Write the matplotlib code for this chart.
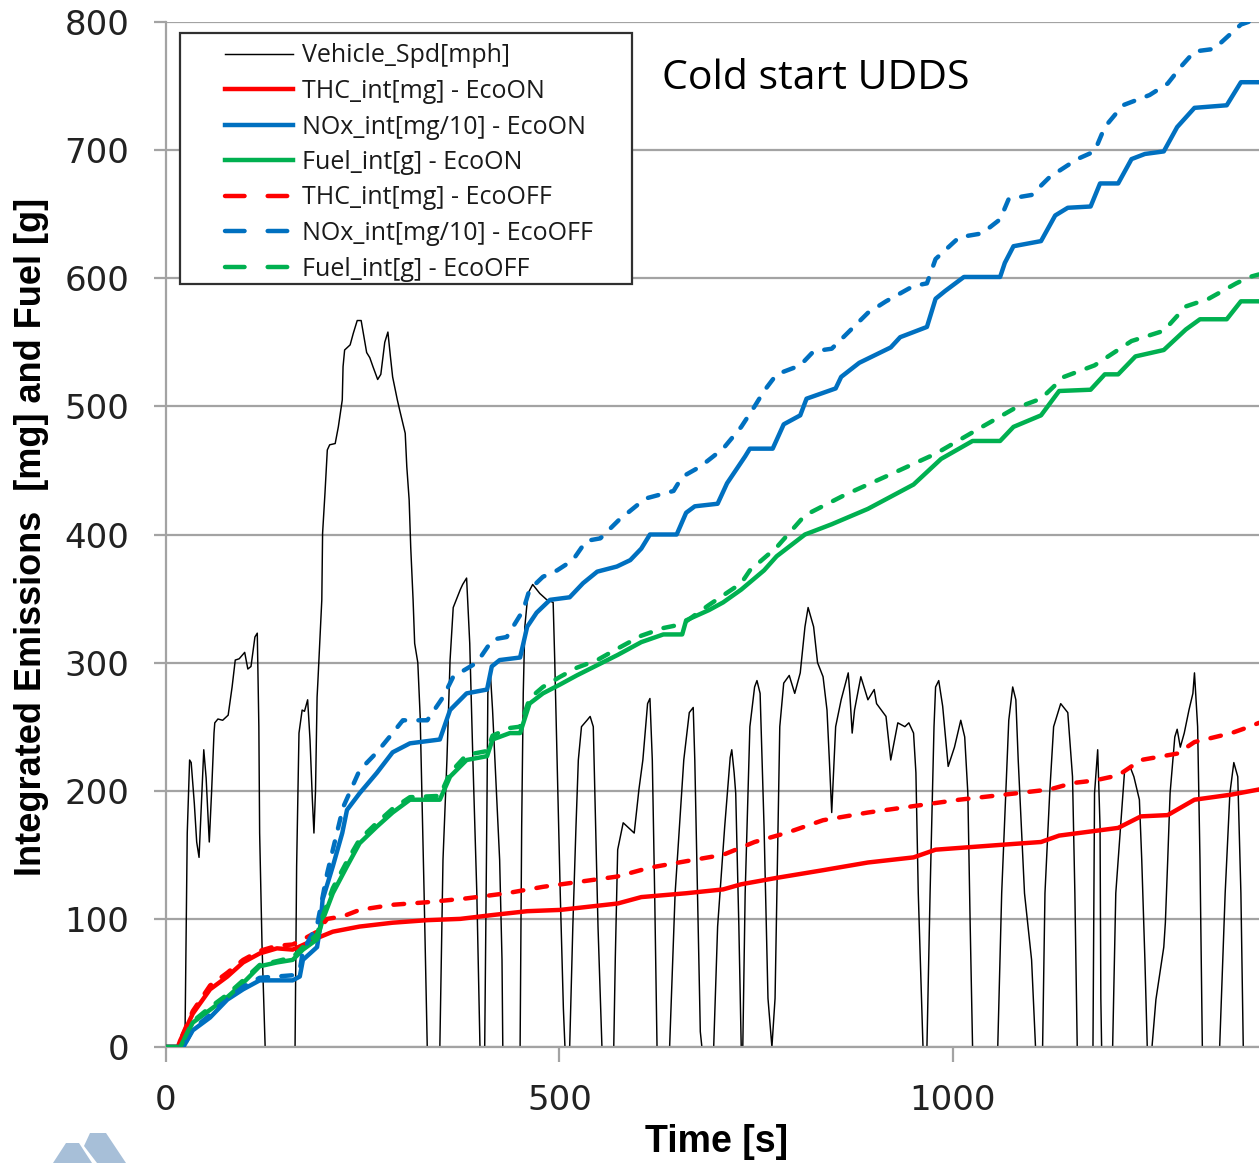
import matplotlib
matplotlib.use("Agg")
import matplotlib.pyplot as plt
from matplotlib.lines import Line2D
from matplotlib.patches import Rectangle, Polygon
import numpy as np

# ---------------- data ----------------
# Vehicle speed [mph] vs time [s]; plotted x10 on the emissions axis
speed_t = [0, 22, 24, 27, 30, 32, 36, 39, 42, 45, 48, 51, 55, 58, 61, 62, 66, 72, 79, 84, 88, 93, 100, 104,
           108, 113, 116, 118, 119, 122, 126, 164, 166, 169, 173, 176, 180, 183, 186, 188, 190, 192, 193,
           198, 199, 202, 205, 208, 215, 219, 224, 225, 227, 234, 238, 243, 248, 250, 255, 259, 263, 269,
           273, 278, 282, 285, 288, 294, 297, 304, 306, 309, 311, 314, 316, 320, 323, 328, 332, 346,
           348, 352, 357, 361, 365, 374, 377, 382, 386, 390, 395, 399, 403,
           405, 408, 409, 412, 415, 420, 424, 427, 428, 447,
           450, 452, 454, 456, 460, 466, 475, 484, 492, 494, 497, 501, 505, 507, 513,
           517, 521, 524, 528, 535, 539, 543, 545, 549, 554, 569,
           571, 574, 581, 595, 601, 606, 612, 615, 618, 621, 624, 640,
           647, 658, 665, 670, 672, 679, 681, 696,
           701, 710, 717, 719, 722, 724, 728, 731, 733,
           736, 742, 748, 751, 755, 760, 765, 770,
           774, 780, 785, 792, 799, 806, 812, 816, 823, 828, 835, 840, 843, 846, 851, 858, 867, 869,
           872, 875, 883, 892, 900, 903, 915, 921, 930, 939, 944, 950, 953, 956, 962, 967,
           971, 976, 978, 982, 987, 994, 1002, 1010, 1015, 1019, 1022, 1025, 1057,
           1062, 1071, 1076, 1080, 1083, 1091, 1100, 1105, 1114,
           1117, 1123, 1128, 1137, 1146, 1152, 1155, 1158, 1178,
           1180, 1184, 1187, 1188, 1189, 1203,
           1207, 1218, 1225, 1230, 1237, 1240, 1244, 1247, 1253,
           1255, 1258, 1268, 1270, 1273, 1276, 1282, 1285, 1289, 1294, 1300, 1305, 1307, 1311,
           1314, 1317, 1339,
           1346, 1352, 1357, 1362, 1366, 1369, 1389]
speed_mph = [0, 0, 0, 16.7, 22.4, 22.2, 19.0, 16.0, 14.8, 19.0, 23.2, 21.0, 16.0, 20.0, 24.5, 25.3, 25.6, 25.5,
             25.9, 28.1, 30.2, 30.3, 30.8, 29.5, 29.7, 32.0, 32.3, 25.0, 16.7, 8.0, 0, 0, 14.1, 24.5,
             26.3, 26.2, 27.1, 24.0, 19.3, 16.7, 20.0, 27.3, 28.5, 34.9, 40.1, 43.2, 46.6, 47.0, 47.1,
             48.4, 50.5, 53.1, 54.4, 54.8, 55.7, 56.7, 56.7, 56.0, 54.2, 53.8, 53.1, 52.1, 52.5, 55.0,
             55.8, 54.0, 52.3, 50.5, 49.7, 47.9, 45.3, 42.7, 39.0, 34.9, 31.5, 30.0, 25.8, 12.0, 0, 0,
             0, 14.6, 22.4, 30.2, 34.3, 35.7, 36.1, 36.6, 31.5, 22.4, 12.0, 0, 0,
             0, 19.8, 27.6, 29.4, 26.3, 19.8, 14.6, 6.8, 0, 0,
             0, 17.2, 27.6, 32.8, 35.4, 36.1, 35.4, 34.9, 34.7, 30.2, 22.4, 12.0, 3.0, 0, 0,
             9.4, 17.2, 22.4, 25.0, 25.5, 25.8, 25.0, 19.8, 9.4, 0, 0,
             7.0, 15.4, 17.5, 16.7, 20.1, 22.4, 26.8, 27.2, 22.4, 12.0, 0, 0,
             12.0, 22.4, 26.1, 26.5, 22.4, 1.2, 0, 0,
             9.4, 17.2, 22.6, 23.2, 21.4, 19.8, 9.4, 0, 0,
             12.0, 25.0, 28.1, 28.6, 27.6, 17.2, 3.8, 0,
             3.8, 25.0, 28.4, 29.0, 27.6, 29.2, 32.8, 34.3, 32.8, 30.0, 28.9, 26.3, 22.4, 18.3, 25.0,
             27.1, 29.2, 27.6, 24.5, 26.3, 28.9, 27.1, 27.9, 26.8, 25.8, 22.4, 25.3, 25.0, 25.3, 24.5,
             21.4, 12.0, 0, 0,
             12.0, 25.0, 28.1, 28.6, 26.6, 21.9, 23.4, 25.5, 24.2, 19.8, 9.4, 0, 0,
             12.0, 25.5, 28.1, 27.1, 22.4, 12.0, 6.8, 0, 0,
             12.0, 19.8, 25.0, 26.8, 26.1, 21.1, 12.0, 0, 0,
             19.8, 23.2, 17.2, 3.8, 0, 0,
             12.0, 21.4, 21.9, 21.1, 19.3, 14.6, 6.8, 0, 0,
             1.5, 3.7, 7.8, 9.7, 14.6, 19.8, 24.2, 24.8, 23.4, 24.5, 26.3, 27.6, 29.2, 25.0,
             14.6, 0, 0,
             12.0, 19.8, 22.2, 21.1, 12.0, 0, 0]

# THC integrated [mg]
thc_on_t = [0, 15, 18, 34, 56, 78, 98, 119, 141, 161, 179, 196, 212, 246, 288, 332, 374, 415, 459, 501, 574,
            604, 661, 708, 731, 776, 835, 892, 950, 978, 1066, 1112, 1135, 1210, 1239, 1273, 1307, 1354, 1389]
thc_on = [0, 0, 5, 26, 45, 55, 66, 73, 77, 76, 81, 86, 90, 94, 97, 99, 100, 103, 106, 107, 112,
          117, 120, 123, 127, 132, 138, 144, 148, 154, 158, 160, 165, 171, 180, 181, 193, 197, 201]
thc_off_t = [0, 15, 18, 34, 56, 78, 98, 119, 141, 161, 174, 192, 205, 225, 246, 288, 332, 382, 433, 479,
             526, 573, 615, 661, 708, 748, 788, 835, 892, 950, 1008, 1066, 1123, 1152, 1180, 1210, 1239,
             1285, 1307, 1354, 1377, 1389]
thc_off = [0, 0, 5, 28, 48, 58, 68, 75, 79, 80, 84, 90, 100, 102, 107, 111, 113, 116, 120, 125,
           129, 133, 140, 145, 150, 160, 167, 177, 183, 188, 193, 197, 201, 206, 208, 212, 224,
           229, 238, 245, 250, 253]

# NOx integrated [mg/10]
nox_on_t = [0, 22, 34, 56, 78, 98, 119, 161, 170, 174, 192, 196, 199, 212, 224, 230, 246, 268, 288, 310,
            348, 361, 382, 408, 414, 424, 450, 459, 471, 488, 513, 530, 548, 573, 590, 604, 615, 649, 661,
            672, 701, 713, 736, 742, 771, 785, 806, 814, 851, 858, 881, 921, 933, 967, 978, 990, 1014,
            1060, 1066, 1077, 1112, 1130, 1146, 1175, 1187, 1210, 1227, 1244, 1268, 1285, 1307, 1348,
            1366, 1394]
nox_on = [0, 0, 13, 23, 37, 45, 52, 52, 55, 68, 78, 94, 115, 141, 167, 185, 198, 214, 230, 237,
          240, 263, 276, 279, 297, 302, 304, 328, 339, 349, 351, 362, 371, 375, 380, 389, 400, 400, 417,
          422, 424, 440, 461, 467, 467, 486, 493, 506, 514, 523, 534, 546, 554, 562, 584, 590, 601,
          601, 612, 625, 629, 649, 655, 656, 674, 674, 693, 697, 699, 718, 733, 735,
          753, 753]
nox_off_t = [0, 22, 34, 56, 78, 98, 119, 161, 170, 174, 192, 205, 225, 246, 268, 288, 301, 332, 352, 365,
             395, 415, 433, 454, 462, 479, 497, 517, 534, 552, 575, 609, 645, 656, 679, 708, 731, 748,
             760, 776, 806, 823, 846, 869, 892, 915, 950, 967, 978, 1008, 1037, 1060, 1071, 1100, 1123,
             1158, 1180, 1193, 1216, 1250, 1273, 1291, 1307, 1332, 1348, 1366, 1389]
nox_off = [0, 0, 14, 25, 38, 47, 54, 56, 60, 75, 95, 136, 187, 216, 230, 245, 255, 255, 273, 289,
           300, 318, 320, 341, 357, 367, 372, 380, 395, 397, 411, 428, 434, 445, 453, 467, 484, 500,
           512, 525, 532, 543, 545, 559, 573, 582, 594, 596, 615, 632, 635, 646, 662, 665, 679,
           693, 699, 718, 735, 743, 752, 766, 777, 779, 788, 798, 803]

# Fuel integrated [g]
fuel_on_t = [0, 18, 34, 56, 78, 98, 119, 141, 161, 174, 192, 199, 212, 230, 246, 268, 288, 310, 348, 361,
             382, 408, 415, 437, 450, 462, 479, 501, 522, 548, 574, 604, 632, 656, 661, 690, 708, 731,
             760, 776, 812, 846, 892, 950, 985, 1025, 1060, 1077, 1112, 1135, 1175, 1193, 1210, 1232,
             1268, 1296, 1314, 1348, 1366, 1394]
fuel_on = [0, 0, 19, 29, 39, 50, 63, 66, 68, 76, 84, 99, 120, 141, 159, 172, 183, 193, 193, 211,
           224, 227, 240, 245, 245, 268, 276, 283, 290, 298, 306, 316, 322, 322, 333, 341, 347, 357,
           372, 383, 400, 408, 420, 439, 459, 473, 473, 484, 493, 512, 513, 525, 525, 539,
           544, 560, 568, 568, 582, 582]
fuel_off_t = [0, 18, 34, 56, 78, 98, 119, 141, 161, 174, 192, 199, 212, 230, 246, 268, 288, 310, 348, 361,
              382, 408, 415, 437, 450, 462, 479, 501, 522, 548, 574, 604, 632, 656, 690, 731, 742, 776,
              812, 863, 921, 978, 1037, 1077, 1112, 1141, 1180, 1227, 1268, 1296, 1325, 1360, 1377, 1389]
fuel_off = [0, 0, 20, 31, 41, 52, 64, 67, 70, 78, 88, 102, 124, 145, 162, 175, 186, 195, 196, 214,
            228, 231, 243, 249, 250, 272, 281, 289, 296, 302, 311, 321, 327, 330, 345, 362, 372, 390,
            415, 431, 447, 463, 484, 498, 506, 523, 532, 551, 559, 578, 584, 596, 601, 603]

labels = ["Vehicle_Spd[mph]", "THC_int[mg] - EcoON", "NOx_int[mg/10] - EcoON", "Fuel_int[g] - EcoON",
          "THC_int[mg] - EcoOFF", "NOx_int[mg/10] - EcoOFF", "Fuel_int[g] - EcoOFF"]
SPEED_SCALE = 10

# ---------------- styling ----------------
W, H = 1259, 1163
RED, BLUE, GREEN = "#ff0000", "#0070c0", "#00b050"
GRID = "#a3a3a3"
LW = 3.2
plot_dash = (2.4, 3.0)
leg_dash = (4.4, 5.2)

fig = plt.figure(figsize=(W / 100, H / 100), dpi=100)
ax = fig.add_axes([166 / W, 1 - 1047 / H, (W - 166) / W, (1047 - 22) / H])
ax.set_xlim(0, 1389)
ax.set_ylim(0, 800)

ax.plot(speed_t, np.array(speed_mph) * SPEED_SCALE, color="black", lw=1.05, zorder=2)
ax.plot(thc_on_t, thc_on, color=RED, lw=LW, zorder=3, solid_joinstyle="round")
ax.plot(nox_on_t, nox_on, color=BLUE, lw=LW, zorder=3, solid_joinstyle="round")
ax.plot(fuel_on_t, fuel_on, color=GREEN, lw=LW, zorder=3, solid_joinstyle="round")
for t, v, c in [(thc_off_t, thc_off, RED), (nox_off_t, nox_off, BLUE), (fuel_off_t, fuel_off, GREEN)]:
    ax.plot(t, v, color=c, lw=LW, zorder=3, linestyle=(0, plot_dash), dash_capstyle="round")

ax.set_yticks(np.arange(0, 801, 100))
ax.set_xticks([0, 500, 1000])
ax.yaxis.grid(True, color=GRID, lw=1.6)
ax.set_axisbelow(True)
for s in ["top", "right"]:
    ax.spines[s].set_visible(False)
for s in ["left", "bottom"]:
    ax.spines[s].set_color(GRID)
    ax.spines[s].set_linewidth(1.6)
ax.tick_params(axis="y", direction="out", length=9, width=1.6, color=GRID, pad=17.5,
               labelsize=24.5, labelcolor="#222222")
ax.tick_params(axis="x", direction="out", length=11, width=1.6, color=GRID, pad=16,
               labelsize=24.5, labelcolor="#222222")
for lab in ax.get_xticklabels() + ax.get_yticklabels():
    lab.set_family("DejaVu Sans")

lab_font = ["Liberation Sans Narrow", "Liberation Sans", "DejaVu Sans"]
fig.text(32 / W, 1 - 537 / H, "Integrated Emissions  [mg] and Fuel [g]", rotation=90, ha="center",
         va="center", fontsize=26, fontweight="bold", family=lab_font)
fig.text(717 / W, 1 - 1142 / H, "Time [s]", ha="center", va="center", fontsize=27,
         fontweight="bold", family=lab_font)
fig.text(662 / W, 1 - 89 / H, "Cold start UDDS", ha="left", va="baseline", fontsize=29.5,
         family=["Open Sans", "DejaVu Sans"])

# legend: frame drawn separately for its asymmetric padding
fig.patches.append(Rectangle((180 / W, 1 - 284 / H), (632 - 180) / W, (284 - 33) / H,
                             transform=fig.transFigure, facecolor="white", edgecolor="#303030",
                             lw=1.6, zorder=5))
handles = [Line2D([], [], color="black", lw=1.05),
           Line2D([], [], color=RED, lw=LW), Line2D([], [], color=BLUE, lw=LW),
           Line2D([], [], color=GREEN, lw=LW),
           Line2D([], [], color=RED, lw=LW, linestyle=(0, leg_dash), dash_capstyle="round"),
           Line2D([], [], color=BLUE, lw=LW, linestyle=(0, leg_dash), dash_capstyle="round"),
           Line2D([], [], color=GREEN, lw=LW, linestyle=(0, leg_dash), dash_capstyle="round")]
leg = fig.legend(handles, labels, loc="upper left", bbox_to_anchor=(212 / W, 1 - 31 / H),
                 frameon=False, borderpad=0, handlelength=2.75, handletextpad=0.33,
                 labelspacing=0.42, prop={"family": ["Open Sans", "DejaVu Sans"], "size": 18})
leg.set_zorder(6)
for txt in leg.get_texts():
    txt.set_color("#1a1a1a")

# partial logo at the bottom-left corner
logo = "#a7bfd8"
fig.patches.append(Polygon([(53 / W, 0), (66 / W, 1 - 1143 / H), (79 / W, 1 - 1143 / H), (92 / W, 0)],
                           closed=True, transform=fig.transFigure, facecolor=logo, edgecolor="none"))
fig.patches.append(Polygon([(84 / W, 1 - 1146 / H), (90 / W, 1 - 1133 / H), (106 / W, 1 - 1133 / H),
                            (126 / W, 0), (97 / W, 0)],
                           closed=True, transform=fig.transFigure, facecolor=logo, edgecolor="none"))

fig.savefig("out.png", dpi=100)
